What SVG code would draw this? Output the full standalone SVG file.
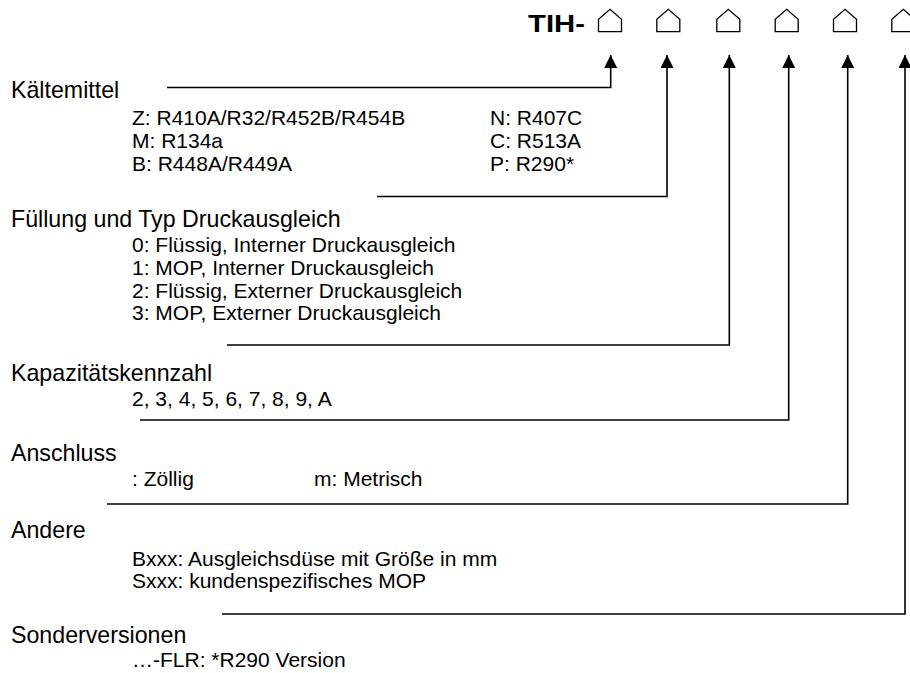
<svg xmlns="http://www.w3.org/2000/svg" width="910" height="673" viewBox="0 0 910 673">
<style>
  text { font-family: "Liberation Sans", Arial, sans-serif; fill: #000; }
  .h { font-size: 23.2px; }
  .i { font-size: 21px; }
  .t { font-size: 24px; font-weight: bold; }
  .house { fill: none; stroke: #000; stroke-width: 1.3; stroke-linejoin: miter; }
  .conn { fill: none; stroke: #000; stroke-width: 1.6; }
</style>
<defs>
  <marker id="arr" markerUnits="userSpaceOnUse" markerWidth="14" markerHeight="14" refX="13" refY="6.5" orient="auto">
    <path d="M0,0 L13,6.5 L0,13 Z" fill="#000"/>
  </marker>
</defs>
<rect width="910" height="673" fill="#fff"/>

<g id="code">
  <text class="t" transform="matrix(1.22 0 0 1 528 32)">TIH-</text>
  <polygon class="house" points="598.5,31.7 598.5,19.3 610,9.3 621.5,19.3 621.5,31.7"/>
  <polygon class="house" points="656.8,31.7 656.8,19.3 668.3,9.3 679.8,19.3 679.8,31.7"/>
  <polygon class="house" points="716.8,31.7 716.8,19.3 728.3,9.3 739.8,19.3 739.8,31.7"/>
  <polygon class="house" points="775.2,31.7 775.2,19.3 786.7,9.3 798.2,19.3 798.2,31.7"/>
  <polygon class="house" points="833.5,31.7 833.5,19.3 845,9.3 856.5,19.3 856.5,31.7"/>
  <polygon class="house" points="891.8,31.7 891.8,19.3 903.3,9.3 914.8,19.3 914.8,31.7"/>
</g>

<g id="kaeltemittel">
  <text class="h" x="11" y="97.5">Kältemittel</text>
  <text class="i" x="132" y="124.5">Z: R410A/R32/R452B/R454B</text>
  <text class="i" x="132" y="148">M: R134a</text>
  <text class="i" x="132" y="171">B: R448A/R449A</text>
  <text class="i" x="490" y="124.5">N: R407C</text>
  <text class="i" x="490" y="148">C: R513A</text>
  <text class="i" x="490" y="171">P: R290*</text>
</g>

<g id="fuellung">
  <text class="h" x="11" y="227">Füllung und Typ Druckausgleich</text>
  <text class="i" x="132" y="252">0: Flüssig, Interner Druckausgleich</text>
  <text class="i" x="132" y="275">1: MOP, Interner Druckausgleich</text>
  <text class="i" x="132" y="298">2: Flüssig, Externer Druckausgleich</text>
  <text class="i" x="132" y="320">3: MOP, Externer Druckausgleich</text>
</g>

<g id="kapazitaet">
  <text class="h" x="11" y="381">Kapazitätskennzahl</text>
  <text class="i" x="132" y="406">2, 3, 4, 5, 6, 7, 8, 9, A</text>
</g>

<g id="anschluss">
  <text class="h" x="11" y="461">Anschluss</text>
  <text class="i" x="132" y="486">: Zöllig</text>
  <text class="i" x="314" y="486">m: Metrisch</text>
</g>

<g id="andere">
  <text class="h" x="11" y="538">Andere</text>
  <text class="i" x="132" y="566">Bxxx: Ausgleichsdüse mit Größe in mm</text>
  <text class="i" x="132" y="588">Sxxx: kundenspezifisches MOP</text>
</g>

<g id="sonderversionen">
  <text class="h" x="11" y="643">Sonderversionen</text>
  <text class="i" x="132" y="667">…-FLR: *R290 Version</text>
</g>

<g id="connectors">
  <path class="conn" d="M167,87.5 H610.7 V55" marker-end="url(#arr)"/>
  <path class="conn" d="M377,196.5 H667 V55" marker-end="url(#arr)"/>
  <path class="conn" d="M227,345 H729.3 V55" marker-end="url(#arr)"/>
  <path class="conn" d="M140,420 H788.7 V55" marker-end="url(#arr)"/>
  <path class="conn" d="M107,504 H847.7 V55" marker-end="url(#arr)"/>
  <path class="conn" d="M222,614 H905 V55" marker-end="url(#arr)"/>
</g>
</svg>
